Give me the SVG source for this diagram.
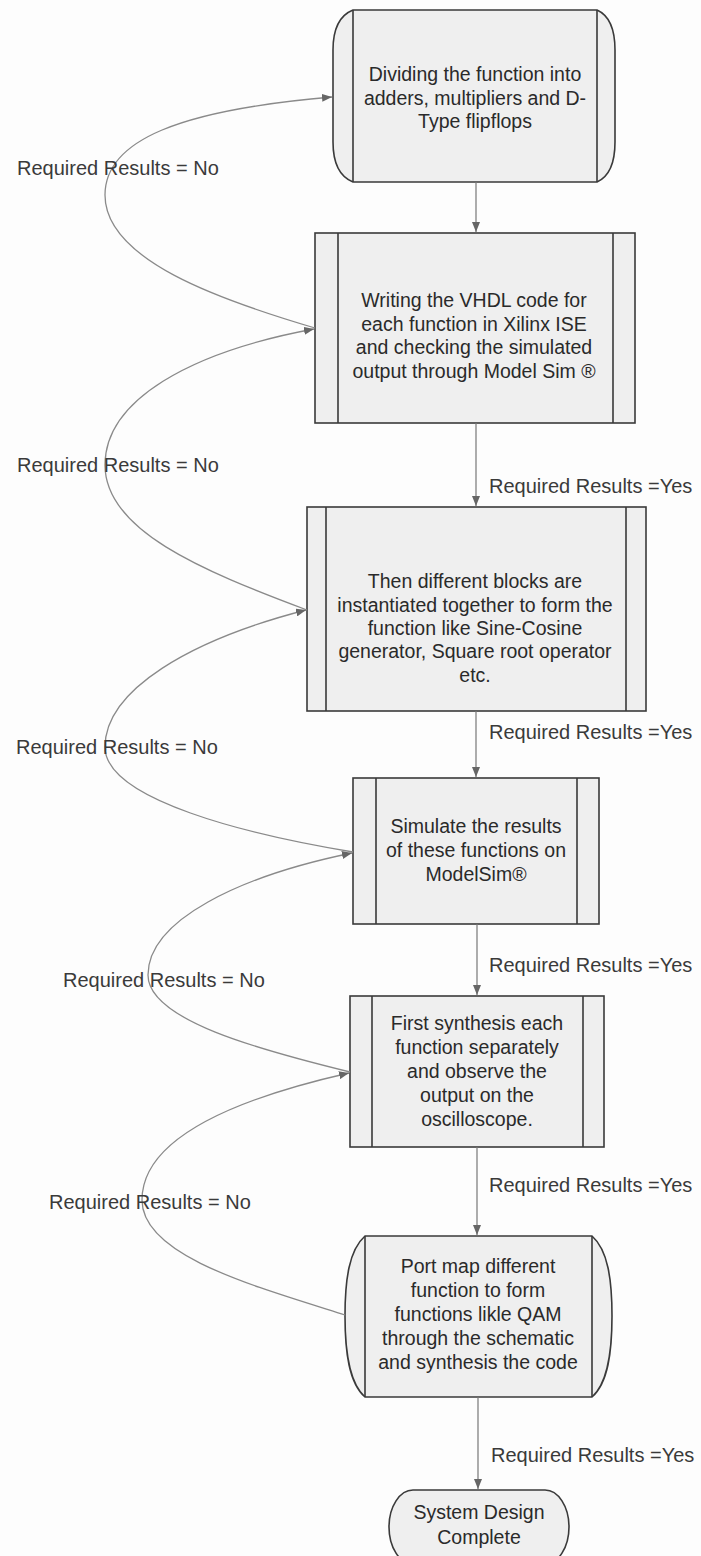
<svg xmlns="http://www.w3.org/2000/svg" width="701" height="1556" viewBox="0 0 701 1556">
<defs>
<style>
.bg{fill:#fdfdfd}
.node{fill:#efefef;stroke:#3a3a3a;stroke-width:1.6}
.inner{fill:none;stroke:#3a3a3a;stroke-width:1.6}
.t{font-family:"Liberation Sans",Arial,sans-serif;font-size:19.5px;fill:#2a2a2a;text-anchor:middle}
.lbl{font-family:"Liberation Sans",Arial,sans-serif;font-size:20px;fill:#3a3a3a}
.flow{fill:none;stroke:#777;stroke-width:1.2}
.loop{fill:none;stroke:#8a8a8a;stroke-width:1.3}
</style>
<marker id="ah" viewBox="0 0 10 8" refX="10" refY="4" markerWidth="10" markerHeight="8" markerUnits="userSpaceOnUse" orient="auto">
<path d="M0,0 L10,4 L0,8 z" fill="#666"/>
</marker>
</defs>
<rect class="bg" x="0" y="0" width="701" height="1556"/>

<g id="node1">
<path class="node" d="M353,10 L597,10 Q615,18 615,50 L615,142 Q615,174 597,182 L353,182 Q333,174 333,142 L333,50 Q333,18 353,10 Z"/>
<path class="inner" d="M353,10 V182 M597,10 V182"/>
<text class="t" x="475" y="81">Dividing the function into</text>
<text class="t" x="475" y="104.5">adders, multipliers and D-</text>
<text class="t" x="475" y="128">Type flipflops</text>
</g>

<g id="node2">
<rect class="node" x="315" y="233" width="320" height="190"/>
<path class="inner" d="M338,233 V423 M613,233 V423"/>
<text class="t" x="474" y="307">Writing the VHDL code for</text>
<text class="t" x="474" y="330.5">each function in Xilinx ISE</text>
<text class="t" x="474" y="354">and checking the simulated</text>
<text class="t" x="474" y="377.5">output through Model Sim ®</text>
</g>

<g id="node3">
<rect class="node" x="307" y="507" width="339" height="204"/>
<path class="inner" d="M326,507 V711 M626,507 V711"/>
<text class="t" x="475" y="588">Then different blocks are</text>
<text class="t" x="475" y="611.5">instantiated together to form the</text>
<text class="t" x="475" y="635">function like Sine-Cosine</text>
<text class="t" x="475" y="658">generator, Square root operator</text>
<text class="t" x="475" y="681.5">etc.</text>
</g>

<g id="node4">
<rect class="node" x="353" y="778" width="246" height="146"/>
<path class="inner" d="M376,778 V924 M577,778 V924"/>
<text class="t" x="476" y="833">Simulate the results</text>
<text class="t" x="476" y="857">of these functions on</text>
<text class="t" x="476" y="881">ModelSim®</text>
</g>

<g id="node5">
<rect class="node" x="350" y="996" width="254" height="151"/>
<path class="inner" d="M372,996 V1147 M583,996 V1147"/>
<text class="t" x="477" y="1030">First synthesis each</text>
<text class="t" x="477" y="1054">function separately</text>
<text class="t" x="477" y="1078">and observe the</text>
<text class="t" x="477" y="1102">output on the</text>
<text class="t" x="477" y="1126">oscilloscope.</text>
</g>

<g id="node6">
<path class="node" d="M365,1236 L592,1236 C608,1250 612,1280 612,1316 C612,1352 608,1383 592,1397 L365,1397 C349,1383 345,1352 345,1316 C345,1280 349,1250 365,1236 Z"/>
<path class="inner" d="M365,1236 V1397 M592,1236 V1397"/>
<text class="t" x="478" y="1273">Port map different</text>
<text class="t" x="478" y="1297">function to form</text>
<text class="t" x="478" y="1321">functions likle QAM</text>
<text class="t" x="478" y="1345">through the schematic</text>
<text class="t" x="478" y="1369">and synthesis the code</text>
</g>

<g id="node7">
<rect class="node" x="389" y="1490" width="180" height="74" rx="24" ry="37"/>
<text class="t" x="479" y="1519">System Design</text>
<text class="t" x="479" y="1544">Complete</text>
</g>

<g id="connectors">
<path class="flow" d="M476,182 V232" marker-end="url(#ah)"/>
<path class="flow" d="M476,423 V506" marker-end="url(#ah)"/>
<path class="flow" d="M476,711 V777" marker-end="url(#ah)"/>
<path class="flow" d="M477,924 V995" marker-end="url(#ah)"/>
<path class="flow" d="M477,1147 V1235" marker-end="url(#ah)"/>
<path class="flow" d="M478,1397 V1489" marker-end="url(#ah)"/>

<path class="loop" d="M315,328 C220,300 105,260 105,195 C105,140 180,110 332,97" marker-end="url(#ah)"/>
<path class="loop" d="M307,610 C200,570 105,530 105,465 C105,400 190,352 314,329" marker-end="url(#ah)"/>
<path class="loop" d="M353,852 C250,835 105,800 105,747 C105,690 190,640 306,610" marker-end="url(#ah)"/>
<path class="loop" d="M350,1072 C260,1050 148,1020 148,975 C148,920 240,876 352,853" marker-end="url(#ah)"/>
<path class="loop" d="M345,1315 C250,1285 142,1255 142,1200 C142,1140 230,1100 349,1073" marker-end="url(#ah)"/>

<text class="lbl" x="17" y="175">Required Results = No</text>
<text class="lbl" x="17" y="472">Required Results = No</text>
<text class="lbl" x="16" y="754">Required Results = No</text>
<text class="lbl" x="63" y="987">Required Results = No</text>
<text class="lbl" x="49" y="1209">Required Results = No</text>

<text class="lbl" x="489" y="493">Required Results =Yes</text>
<text class="lbl" x="489" y="739">Required Results =Yes</text>
<text class="lbl" x="489" y="972">Required Results =Yes</text>
<text class="lbl" x="489" y="1192">Required Results =Yes</text>
<text class="lbl" x="491" y="1462">Required Results =Yes</text>
</g>
</svg>
